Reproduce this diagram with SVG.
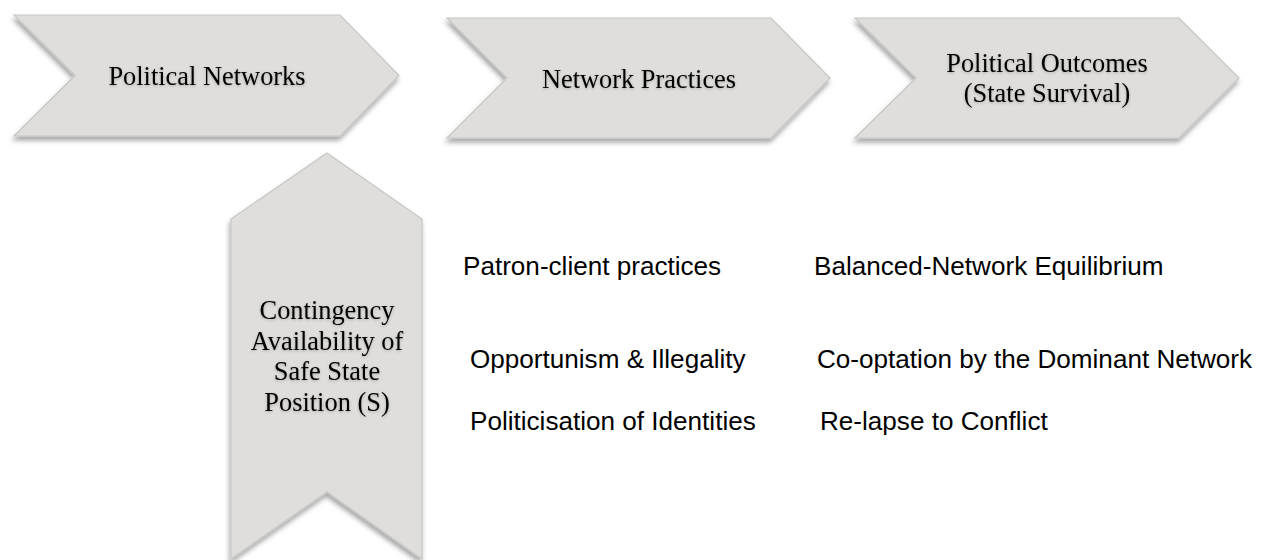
<svg xmlns="http://www.w3.org/2000/svg" width="1263" height="560" viewBox="0 0 1263 560">
  <defs>
    <filter id="shadow" x="-10%" y="-10%" width="120%" height="130%">
      <feGaussianBlur in="SourceAlpha" stdDeviation="2.5"/>
      <feOffset dx="-1" dy="4" result="b"/>
      <feFlood flood-color="#000" flood-opacity="0.35"/>
      <feComposite in2="b" operator="in"/>
      <feMerge><feMergeNode/><feMergeNode in="SourceGraphic"/></feMerge>
    </filter>
    <filter id="tshadow" x="-10%" y="-30%" width="120%" height="160%">
      <feGaussianBlur in="SourceAlpha" stdDeviation="1.5"/>
      <feOffset dx="0" dy="1" result="b"/>
      <feFlood flood-color="#000" flood-opacity="0.25"/>
      <feComposite in2="b" operator="in"/>
      <feMerge><feMergeNode/><feMergeNode in="SourceGraphic"/></feMerge>
    </filter>
  </defs>
  <style>
    .shape { fill: #DFDEDA; stroke: #C6C6C4; stroke-width: 1.2; filter: url(#shadow); }
    .serif { font-family: "Liberation Serif", "Times New Roman", serif; font-size: 26.4px; fill: #000; text-anchor: middle; filter: url(#tshadow); }
    .sans { font-family: "Liberation Sans", Arial, sans-serif; font-size: 26.1px; fill: #000; }
  </style>
  <rect width="1263" height="560" fill="#fff"/>
  <g id="political-networks">
    <polygon class="shape" points="14,15 340,15 399,75.5 340,136 14,136 75,75.5"/>
    <text class="serif" x="207" y="85">Political Networks</text>
  </g>
  <g id="network-practices">
    <polygon class="shape" points="447,18 771,18 830,78 771,138 447,138 507,78"/>
    <text class="serif" x="639" y="88">Network Practices</text>
  </g>
  <g id="political-outcomes">
    <polygon class="shape" points="855,18 1179,18 1239,78 1179,138 855,138 916,78"/>
    <text class="serif" x="1047" y="72">Political Outcomes</text>
    <text class="serif" x="1047" y="102">(State Survival)</text>
  </g>
  <g id="contingency">
    <polygon class="shape" points="327,153 422,219 422,559 327,492 231,559 231,219"/>
    <text class="serif" x="327" y="319">Contingency</text>
    <text class="serif" x="327" y="349.5">Availability of</text>
    <text class="serif" x="327" y="380">Safe State</text>
    <text class="serif" x="327" y="410.5">Position (S)</text>
  </g>
  <g id="practices-list">
    <text class="sans" x="463" y="275">Patron-client practices</text>
    <text class="sans" x="470" y="368">Opportunism &amp; Illegality</text>
    <text class="sans" x="470" y="430">Politicisation of Identities</text>
  </g>
  <g id="outcomes-list">
    <text class="sans" x="814" y="275">Balanced-Network Equilibrium</text>
    <text class="sans" x="817" y="368">Co-optation by the Dominant Network</text>
    <text class="sans" x="820" y="430">Re-lapse to Conflict</text>
  </g>
  <g id="connectors"></g>
</svg>
